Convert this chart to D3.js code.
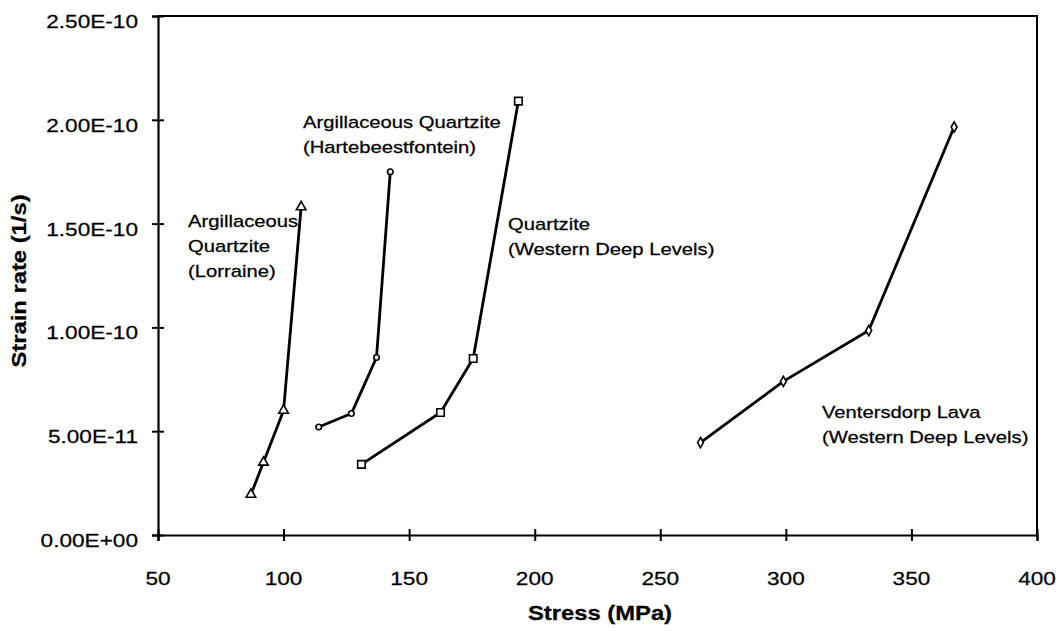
<!DOCTYPE html>
<html>
<head>
<meta charset="utf-8">
<script src="https://cdn.jsdelivr.net/npm/d3@7"></script>
<style>
  html, body { margin: 0; padding: 0; background: #fff; }
  svg { display: block; }
  text { font-family: "Liberation Sans", Arial, Helvetica, sans-serif; fill: #000; stroke: #000; stroke-width: 0.25px; }
</style>
</head>
<body>
<svg id="chart" width="1063" height="631"></svg>
<script>
// Creep data: stress (MPa) vs. strain rate (1/s) for four rock types
const lorraineStress = [87, 92, 100, 107];
const lorraineRate   = [1.95e-11, 3.5e-11, 6.0e-11, 1.58e-10];

const hartebeestStress = [114, 127, 137, 142.5];
const hartebeestRate   = [5.2e-11, 5.85e-11, 8.55e-11, 1.75e-10];

const wdlQuartziteStress = [131, 162.5, 175.5, 193.5];
const wdlQuartziteRate   = [3.4e-11, 5.9e-11, 8.5e-11, 2.09e-10];

const ventersdorpStress = [266, 299, 333, 367];
const ventersdorpRate   = [4.45e-11, 7.4e-11, 9.85e-11, 1.965e-10];

const xTicks = [50, 100, 150, 200, 250, 300, 350, 400];
const xTickLabels = ["50", "100", "150", "200", "250", "300", "350", "400"];
const yTicks = [0, 5e-11, 1e-10, 1.5e-10, 2e-10, 2.5e-10];
const yTickLabels = ["0.00E+00", "5.00E-11", "1.00E-10", "1.50E-10", "2.00E-10", "2.50E-10"];

const seriesNames = ["lorraine", "hartebeest", "wdlQuartzite", "ventersdorp"];
const seriesLabels = [
  ["Argillaceous", "Quartzite", "(Lorraine)"],
  ["Argillaceous Quartzite", "(Hartebeestfontein)"],
  ["Quartzite", "(Western Deep Levels)"],
  ["Ventersdorp Lava", "(Western Deep Levels)"]
];

const series = [
  { name: seriesNames[0], xs: lorraineStress, ys: lorraineRate, marker: "triangle" },
  { name: seriesNames[1], xs: hartebeestStress, ys: hartebeestRate, marker: "circle" },
  { name: seriesNames[2], xs: wdlQuartziteStress, ys: wdlQuartziteRate, marker: "square" },
  { name: seriesNames[3], xs: ventersdorpStress, ys: ventersdorpRate, marker: "diamond" }
];

// Label anchor points (left x, first baseline) and line spacing
const labelPos = [
  { x: 188, y: 227 },
  { x: 303, y: 128 },
  { x: 508, y: 230 },
  { x: 822, y: 418 }
];
const lineGap = 25;
const stretch = 1.19;

const svg = d3.select("#chart");
const plot = { left: 158, right: 1037, top: 16, bottom: 535 };

const x = d3.scaleLinear().domain([50, 400]).range([plot.left, plot.right]);
const y = d3.scaleLinear().domain([0, 2.5e-10]).range([plot.bottom, plot.top]);

// Plot frame (top and right edges)
svg.append("path")
  .attr("d", `M${plot.left},${plot.top}H${plot.right}V${plot.bottom}`)
  .attr("fill", "none").attr("stroke", "#000").attr("stroke-width", 2);

// Axes with ticks crossing the axis line
const xAxis = svg.append("g")
  .attr("transform", `translate(0,${plot.bottom})`)
  .call(d3.axisBottom(x).tickValues(xTicks).tickSize(6).tickFormat(""));
xAxis.selectAll(".tick line").attr("y1", -6).attr("stroke-width", 2);
xAxis.select(".domain").attr("stroke-width", 2.2);

const yAxis = svg.append("g")
  .attr("transform", `translate(${plot.left},0)`)
  .call(d3.axisLeft(y).tickValues(yTicks).tickSize(6).tickFormat(""));
yAxis.selectAll(".tick line").attr("x1", 6).attr("stroke-width", 2);
yAxis.select(".domain").attr("stroke-width", 2.2);

// Tick labels
svg.append("g").selectAll("text")
  .data(xTicks)
  .join("text")
  .attr("transform", (d) => `translate(${x(d)},585) scale(${stretch},1)`)
  .attr("text-anchor", "middle")
  .attr("font-size", 19)
  .text((d, i) => xTickLabels[i]);

svg.append("g").selectAll("text")
  .data(yTicks)
  .join("text")
  .attr("transform", (d) => `translate(138,${y(d) + 12}) scale(${stretch},1)`)
  .attr("text-anchor", "end")
  .attr("font-size", 19)
  .text((d, i) => yTickLabels[i]);

// Axis titles
svg.append("text")
  .attr("transform", `translate(600,620) scale(${stretch},1)`)
  .attr("text-anchor", "middle")
  .attr("font-size", 20)
  .attr("font-weight", "bold")
  .text("Stress (MPa)");

svg.append("text")
  .attr("transform", `translate(26,281) rotate(-90) scale(${stretch},1)`)
  .attr("text-anchor", "middle")
  .attr("font-size", 20)
  .attr("font-weight", "bold")
  .text("Strain rate (1/s)");

// Lines
const line = d3.line().x((d) => x(d[0])).y((d) => y(d[1]));
const markerPath = {
  triangle: d3.symbol().type(d3.symbolTriangle).size(40)(),
  circle: d3.symbol().type(d3.symbolCircle).size(24)(),
  square: d3.symbol().type(d3.symbolSquare).size(56)(),
  diamond: d3.symbol().type(d3.symbolDiamond).size(30)()
};

series.forEach((s) => {
  const pts = s.xs.map((v, i) => [v, s.ys[i]]);
  svg.append("path")
    .datum(pts)
    .attr("d", line)
    .attr("fill", "none")
    .attr("stroke", "#000")
    .attr("stroke-width", 2.8)
    .attr("stroke-linejoin", "round");

  svg.append("g").selectAll("path")
    .data(pts)
    .join("path")
    .attr("transform", (d) => `translate(${x(d[0])},${y(d[1])})`)
    .attr("d", markerPath[s.marker])
    .attr("fill", "#fff")
    .attr("stroke", "#000")
    .attr("stroke-width", 1.6);
});

// Series annotations
seriesLabels.forEach((lines, i) => {
  const g = svg.append("g");
  lines.forEach((t, j) => {
    g.append("text")
      .attr("transform", `translate(${labelPos[i].x},${labelPos[i].y + j * lineGap}) scale(${stretch},1)`)
      .attr("font-size", 17)
      .text(t);
  });
});
</script>
</body>
</html>
